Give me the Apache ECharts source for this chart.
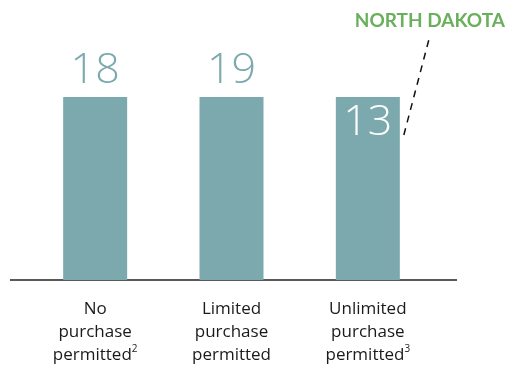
<!DOCTYPE html>
<html>
<head>
<meta charset="utf-8">
<style>
  html, body { margin: 0; padding: 0; background: #fff; }
  #chart { width: 505px; height: 369px; }
</style>
<script src="https://cdn.jsdelivr.net/npm/echarts@6/dist/echarts.min.js"></script>
</head>
<body>
<div id="chart"></div>
<script>
// Purchase rules by number of states
const categories = ['No\npurchase\npermitted{sup|2}', 'Limited\npurchase\npermitted', 'Unlimited\npurchase\npermitted{sup|3}'];
const stateCounts = [18, 19, 13];
// Every column is drawn as an equal-height box; the count is shown as its label
const boxHeights = [1, 1, 1];
const highlightLabel = 'NORTH DAKOTA';

const teal = '#7ba9ae';
const chart = echarts.init(document.getElementById('chart'), null, { renderer: 'canvas' });

const barData = boxHeights.map((h, i) => {
  const inside = i === 2;
  return {
    value: h,
    label: {
      show: true,
      position: inside ? 'insideTop' : 'top',
      distance: 6,
      formatter: String(stateCounts[i]),
      color: inside ? '#ffffff' : teal,
      fontFamily: 'Open Sans',
      fontWeight: 300,
      fontSize: 43,
      lineHeight: 40
    }
  };
});

chart.setOption({
  animation: false,
  grid: { left: 27, right: 69, top: 97, bottom: 89 },
  xAxis: {
    type: 'category',
    data: categories,
    axisLine: { show: false },
    axisTick: { show: false },
    axisLabel: {
      interval: 0,
      hideOverlap: false,
      margin: 18,
      color: '#1a1a1a',
      fontFamily: 'Open Sans',
      fontSize: 17,
      lineHeight: 23,
      rich: {
        sup: { fontSize: 10, verticalAlign: 'top', lineHeight: 23, color: '#1a1a1a', fontFamily: 'Open Sans', padding: [0, 0, 10, 0] }
      }
    }
  },
  yAxis: {
    type: 'value', min: 0, max: 1,
    show: false, splitLine: { show: false }
  },
  series: [{
    type: 'bar',
    data: barData,
    barWidth: 64,
    itemStyle: { color: teal }
  }]
});

// Baseline rule and the callout tying the third column to its state
function drawOverlay() {
  const base = chart.convertToPixel({ gridIndex: 0 }, [0, 0]);
  const top3 = chart.convertToPixel({ gridIndex: 0 }, [2, 1]);
  const barRight = top3[0] + 32;
  chart.setOption({
    graphic: [
      {
        type: 'line',
        shape: { x1: 10, y1: base[1], x2: 457, y2: base[1] },
        style: { stroke: '#222', lineWidth: 1.5 }
      },
      {
        type: 'line',
        shape: { x1: barRight + 4, y1: top3[1] + 38, x2: barRight + 30, y2: top3[1] - 61 },
        style: { stroke: '#111', lineWidth: 1.5, lineDash: [7, 6] }
      },
      {
        type: 'text',
        x: barRight + 30, y: 21,
        style: {
          text: highlightLabel,
          fill: '#6aaf5c',
          font: 'bold 19px Lato',
          textAlign: 'center',
          textVerticalAlign: 'middle'
        }
      }
    ]
  });
}
drawOverlay();
</script>
</body>
</html>
